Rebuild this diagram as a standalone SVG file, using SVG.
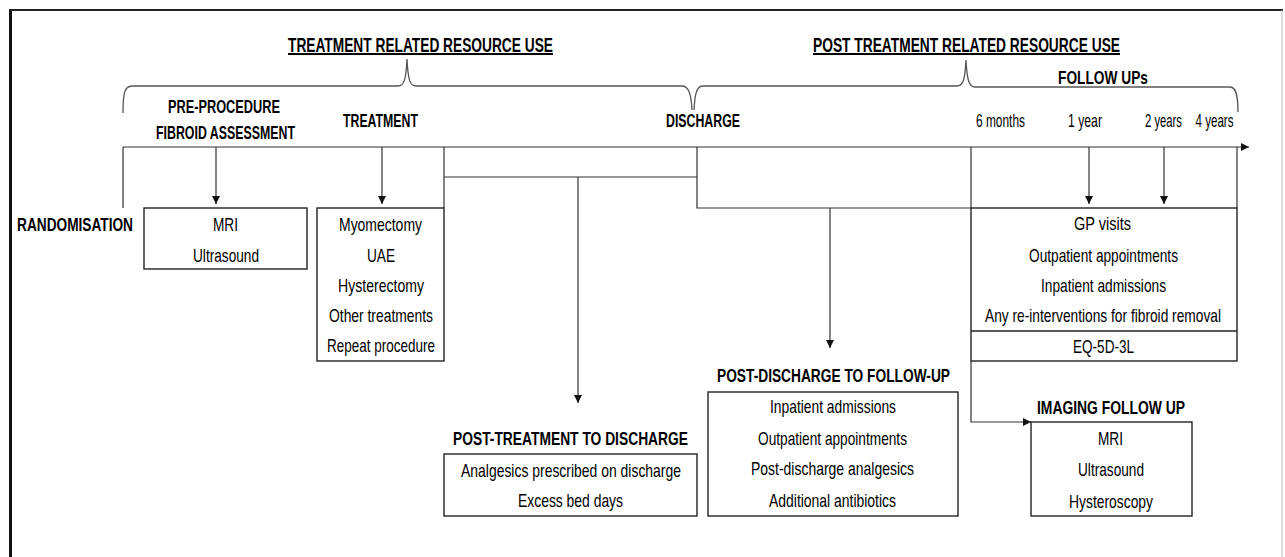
<svg xmlns="http://www.w3.org/2000/svg" width="1285" height="557" viewBox="0 0 1285 557">
<style>
text{font-family:"Liberation Sans Narrow","Liberation Sans",Arial,sans-serif;font-size:19px;fill:#000;text-anchor:middle}
.b{font-weight:bold}
.t{font-weight:bold;font-size:20px;text-decoration:underline}
.l{text-anchor:start}
.box{fill:none;stroke:#222;stroke-width:1.4}
.c{fill:none;stroke:#333;stroke-width:1.2}
.br{fill:none;stroke:#555;stroke-width:1.3}
</style>
<defs>
<marker id="ah" viewBox="0 0 10 10" refX="10" refY="5" markerWidth="8" markerHeight="8" markerUnits="userSpaceOnUse" orient="auto">
<path d="M0,0 L10,5 L0,10 Z" fill="#111"/>
</marker>
</defs>
<rect width="1285" height="557" fill="#fff"/>
<g id="frame">
<line x1="10.5" y1="9" x2="10.5" y2="557" stroke="#111" stroke-width="3"/>
<line x1="9" y1="10" x2="1283" y2="10" stroke="#222" stroke-width="2"/>
<line x1="1282" y1="10" x2="1282" y2="557" stroke="#bbb" stroke-width="1"/>
</g>
<g id="headers">
<text class="t" x="420.5" y="52" textLength="265" lengthAdjust="spacingAndGlyphs">TREATMENT RELATED RESOURCE USE</text>
<text class="t" x="966.5" y="52" textLength="307" lengthAdjust="spacingAndGlyphs">POST TREATMENT RELATED RESOURCE USE</text>
<path class="br" d="M123,113 C123,95 124,86 132,86 L398,86 C404,86 406,80 407,59 C408,80 410,86 416,86 L682,86 C688,86 691,92 692,110"/>
<path class="br" d="M694,110 C695,92 697,86 703,86 L957,86 C963,86 965,80 966,60 C967,80 969,87 975,87 L1230,87 C1236,87 1238,95 1238,112"/>
<text class="b" x="1103" y="84" textLength="90" lengthAdjust="spacingAndGlyphs">FOLLOW UPs</text>
</g>
<g id="timeline-labels">
<text class="b" x="224" y="113" textLength="112" lengthAdjust="spacingAndGlyphs">PRE-PROCEDURE</text>
<text class="b" x="225.5" y="139" textLength="139" lengthAdjust="spacingAndGlyphs">FIBROID ASSESSMENT</text>
<text class="b" x="380.5" y="127" textLength="75" lengthAdjust="spacingAndGlyphs">TREATMENT</text>
<text class="b" x="703" y="127" textLength="74" lengthAdjust="spacingAndGlyphs">DISCHARGE</text>
<text x="1000.5" y="127" textLength="49" lengthAdjust="spacingAndGlyphs">6 months</text>
<text x="1085" y="127" textLength="34" lengthAdjust="spacingAndGlyphs">1 year</text>
<text x="1163.5" y="127" textLength="37" lengthAdjust="spacingAndGlyphs">2 years</text>
<text x="1214.5" y="127" textLength="38" lengthAdjust="spacingAndGlyphs">4 years</text>
</g>
<g id="randomisation">
<text class="b l" x="17" y="231" textLength="116" lengthAdjust="spacingAndGlyphs">RANDOMISATION</text>
</g>
<g id="connectors">
<line class="c" x1="123" y1="147" x2="1249" y2="147" marker-end="url(#ah)"/>
<line class="c" x1="123" y1="147" x2="123" y2="208"/>
<line class="c" x1="216" y1="147" x2="216" y2="204" marker-end="url(#ah)"/>
<line class="c" x1="382" y1="147" x2="382" y2="204" marker-end="url(#ah)"/>
<line class="c" x1="444" y1="147" x2="444" y2="208"/>
<line class="c" x1="444" y1="177" x2="697" y2="177"/>
<polyline class="c" points="697,147 697,208 971,208"/>
<line class="c" x1="578" y1="177" x2="578" y2="403" marker-end="url(#ah)"/>
<line class="c" x1="830" y1="208" x2="830" y2="348" marker-end="url(#ah)"/>
<line class="c" x1="971" y1="147" x2="971" y2="208"/>
<line class="c" x1="1237" y1="147" x2="1237" y2="208"/>
<line class="c" x1="1089" y1="147" x2="1089" y2="204" marker-end="url(#ah)"/>
<line class="c" x1="1164" y1="147" x2="1164" y2="204" marker-end="url(#ah)"/>
<polyline class="c" points="971,361 971,422 1031,422" marker-end="url(#ah)"/>
</g>
<g id="assessment">
<rect class="box" x="144" y="208" width="163" height="61"/>
<text x="225.5" y="231" textLength="25" lengthAdjust="spacingAndGlyphs">MRI</text>
<text x="226" y="262" textLength="66" lengthAdjust="spacingAndGlyphs">Ultrasound</text>
</g>
<g id="treatment">
<rect class="box" x="317" y="208" width="127" height="153"/>
<text x="380.5" y="231" textLength="83" lengthAdjust="spacingAndGlyphs">Myomectomy</text>
<text x="381" y="262" textLength="28" lengthAdjust="spacingAndGlyphs">UAE</text>
<text x="381" y="292" textLength="86" lengthAdjust="spacingAndGlyphs">Hysterectomy</text>
<text x="381" y="322" textLength="104" lengthAdjust="spacingAndGlyphs">Other treatments</text>
<text x="381" y="352" textLength="108" lengthAdjust="spacingAndGlyphs">Repeat procedure</text>
</g>
<g id="post-treatment">
<text class="b" x="570.5" y="445" textLength="235" lengthAdjust="spacingAndGlyphs">POST-TREATMENT TO DISCHARGE</text>
<rect class="box" x="444" y="454" width="253" height="62"/>
<text x="571" y="477" textLength="220" lengthAdjust="spacingAndGlyphs">Analgesics prescribed on discharge</text>
<text x="570.5" y="507" textLength="105" lengthAdjust="spacingAndGlyphs">Excess bed days</text>
</g>
<g id="post-discharge">
<text class="b" x="833.5" y="382" textLength="233" lengthAdjust="spacingAndGlyphs">POST-DISCHARGE TO FOLLOW-UP</text>
<rect class="box" x="708" y="392" width="250" height="124"/>
<text x="833" y="413" textLength="126" lengthAdjust="spacingAndGlyphs">Inpatient admissions</text>
<text x="832.5" y="445" textLength="149" lengthAdjust="spacingAndGlyphs">Outpatient appointments</text>
<text x="832.5" y="475" textLength="163" lengthAdjust="spacingAndGlyphs">Post-discharge analgesics</text>
<text x="832.5" y="507" textLength="127" lengthAdjust="spacingAndGlyphs">Additional antibiotics</text>
</g>
<g id="follow-up">
<rect class="box" x="971" y="208" width="266" height="153"/>
<line class="box" x1="971" y1="331" x2="1237" y2="331"/>
<text x="1102.5" y="230" textLength="57" lengthAdjust="spacingAndGlyphs">GP visits</text>
<text x="1103.5" y="262" textLength="149" lengthAdjust="spacingAndGlyphs">Outpatient appointments</text>
<text x="1103.5" y="292" textLength="125" lengthAdjust="spacingAndGlyphs">Inpatient admissions</text>
<text x="1103" y="322" textLength="236" lengthAdjust="spacingAndGlyphs">Any re-interventions for fibroid removal</text>
<text x="1103.5" y="353" textLength="61" lengthAdjust="spacingAndGlyphs">EQ-5D-3L</text>
</g>
<g id="imaging">
<text class="b" x="1111" y="414" textLength="148" lengthAdjust="spacingAndGlyphs">IMAGING FOLLOW UP</text>
<rect class="box" x="1031" y="422" width="161" height="94"/>
<text x="1110.5" y="445" textLength="25" lengthAdjust="spacingAndGlyphs">MRI</text>
<text x="1111" y="476" textLength="66" lengthAdjust="spacingAndGlyphs">Ultrasound</text>
<text x="1111" y="508" textLength="84" lengthAdjust="spacingAndGlyphs">Hysteroscopy</text>
</g>
</svg>
